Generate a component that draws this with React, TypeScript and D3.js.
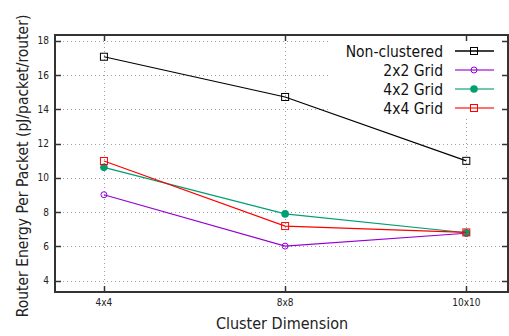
import {useEffect, useRef} from 'react';
import * as d3 from 'd3';

const categories = ['4x4', '8x8', '10x10'];
const yTicks = [4, 6, 8, 10, 12, 14, 16, 18];

const seriesNames = ['Non-clustered', '2x2 Grid', '4x2 Grid', '4x4 Grid'];
const nonClustered = [17.08, 14.73, 11.0];
const grid2x2 = [9.02, 6.02, 6.77];
const grid4x2 = [10.62, 7.9, 6.8];
const grid4x4 = [10.99, 7.19, 6.82];

const colors = ['#000000', '#9400d3', '#009e73', '#ff0000'];
const markers = ['square', 'circle', 'dot', 'square'];

const width = 509;
const height = 336;
const margin = {top: 35, right: 1, bottom: 44, left: 55};
const FONT = '"DejaVu Sans Condensed", "DejaVu Sans", sans-serif';

export default function App() {
    const svgRef = useRef<SVGSVGElement>(null);

    useEffect(() => {
        const svg = d3.select(svgRef.current);
        svg.selectAll('*').remove();

        const x0 = margin.left;
        const x1 = width - margin.right;
        const y0 = margin.top;
        const y1 = height - margin.bottom;

        const x = d3.scaleLinear().domain([-0.27, 2.23]).range([x0, x1]);
        const y = d3.scaleLinear().domain([3.34, 18.35]).range([y1, y0]);

        const data = [nonClustered, grid2x2, grid4x2, grid4x4];

        // grid
        const grid = svg.append('g')
            .attr('stroke', '#a0a0a0')
            .attr('stroke-width', 1)
            .attr('stroke-dasharray', '1,3');
        grid.selectAll('line.h')
            .data(yTicks)
            .join('line')
            .attr('x1', x0)
            .attr('x2', x1)
            .attr('y1', d => Math.round(y(d)) + 0.5)
            .attr('y2', d => Math.round(y(d)) + 0.5);
        grid.selectAll('line.v')
            .data(categories)
            .join('line')
            .attr('x1', (d, i) => Math.round(x(i)) + 0.5)
            .attr('x2', (d, i) => Math.round(x(i)) + 0.5)
            .attr('y1', y0)
            .attr('y2', y1);

        // opaque key box covers the grid
        svg.append('rect')
            .attr('x', 328)
            .attr('y', y0 + 1)
            .attr('width', x1 - 328 - 1)
            .attr('height', 117 - y0)
            .attr('fill', '#fff');

        // border and ticks
        svg.append('rect')
            .attr('x', x0)
            .attr('y', y0)
            .attr('width', x1 - x0)
            .attr('height', y1 - y0)
            .attr('fill', 'none')
            .attr('stroke', '#333')
            .attr('stroke-width', 2);

        const ticks = svg.append('g').attr('stroke', '#333').attr('stroke-width', 1.5);
        yTicks.forEach(t => {
            const yy = Math.round(y(t)) + 0.5;
            ticks.append('line').attr('x1', x0).attr('x2', x0 + 6).attr('y1', yy).attr('y2', yy);
            ticks.append('line').attr('x1', x1).attr('x2', x1 - 6).attr('y1', yy).attr('y2', yy);
        });
        categories.forEach((c, i) => {
            const xx = Math.round(x(i)) + 0.5;
            ticks.append('line').attr('x1', xx).attr('x2', xx).attr('y1', y1).attr('y2', y1 - 6);
            ticks.append('line').attr('x1', xx).attr('x2', xx).attr('y1', y0).attr('y2', y0 + 6);
        });

        // tick labels
        svg.append('g')
            .attr('font-family', FONT)
            .attr('font-size', 10)
            .attr('fill', '#222')
            .attr('text-anchor', 'end')
            .selectAll('text')
            .data(yTicks)
            .join('text')
            .attr('x', 49)
            .attr('y', d => y(d) + 3.5)
            .text(d => d);

        svg.append('g')
            .attr('font-family', FONT)
            .attr('font-size', 10)
            .attr('fill', '#222')
            .attr('text-anchor', 'middle')
            .selectAll('text')
            .data(categories)
            .join('text')
            .attr('x', (d, i) => x(i))
            .attr('y', 306)
            .text(d => d);

        // axis titles
        svg.append('text')
            .attr('x', 282)
            .attr('y', 329)
            .attr('text-anchor', 'middle')
            .attr('font-family', FONT)
            .attr('font-size', 16)
            .attr('fill', '#222')
            .text('Cluster Dimension');

        svg.append('text')
            .attr('transform', `translate(28,166) rotate(-90)`)
            .attr('text-anchor', 'middle')
            .attr('font-family', FONT)
            .attr('font-size', 15.5)
            .attr('fill', '#222')
            .text('Router Energy Per Packet (pJ/packet/router)');

        const drawMarker = (g, kind, cx, cy, color) => {
            if (kind === 'square') {
                g.append('rect')
                    .attr('x', cx - 3.5)
                    .attr('y', cy - 3.5)
                    .attr('width', 7)
                    .attr('height', 7)
                    .attr('fill', 'none')
                    .attr('stroke', color)
                    .attr('stroke-width', 1);
            } else if (kind === 'circle') {
                g.append('circle')
                    .attr('cx', cx)
                    .attr('cy', cy)
                    .attr('r', 3)
                    .attr('fill', 'none')
                    .attr('stroke', color)
                    .attr('stroke-width', 1);
            } else {
                g.append('circle')
                    .attr('cx', cx)
                    .attr('cy', cy)
                    .attr('r', 3.8)
                    .attr('fill', color);
            }
        };

        // series
        const line = d3.line<number>()
            .x((d, i) => x(i))
            .y(d => y(d));

        data.forEach((values, s) => {
            const g = svg.append('g');
            g.append('path')
                .datum(values)
                .attr('d', line)
                .attr('fill', 'none')
                .attr('stroke', colors[s])
                .attr('stroke-width', 1.2);
            values.forEach((v, i) => drawMarker(g, markers[s], x(i), y(v), colors[s]));
        });

        // legend
        const legend = svg.append('g');
        seriesNames.forEach((name, i) => {
            const ly = 51 + i * 19;
            legend.append('text')
                .attr('x', 443)
                .attr('y', ly + 5.5)
                .attr('text-anchor', 'end')
                .attr('font-family', FONT)
                .attr('font-size', 15.5)
                .attr('fill', '#111')
                .text(name);
            legend.append('line')
                .attr('x1', 455)
                .attr('x2', 494)
                .attr('y1', ly)
                .attr('y2', ly)
                .attr('stroke', colors[i])
                .attr('stroke-opacity', i === 0 ? 1 : 0.75)
                .attr('stroke-width', 1.5);
            drawMarker(legend, markers[i], 474, ly, colors[i]);
        });
    }, []);

    return (
        <svg ref={svgRef} width={width} height={height}
             style={{position: 'absolute', left: 0, top: 0, background: '#fff'}}/>
    );
}
